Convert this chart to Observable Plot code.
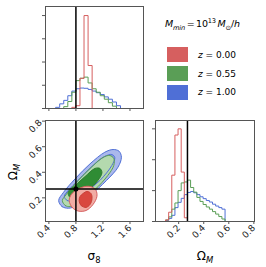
<!DOCTYPE html>
<html><head><meta charset="utf-8">
<script src="https://cdn.jsdelivr.net/npm/d3@7"></script>
<script src="https://cdn.jsdelivr.net/npm/@observablehq/plot@0.6"></script>
<style>
body{margin:0;background:#fff;font-family:"DejaVu Sans",sans-serif;}
#fig{position:relative;width:266px;height:267px;overflow:hidden;background:#fff;}
.p{position:absolute;}
.lab{position:absolute;font-size:12px;color:#000;white-space:nowrap;}
.sw{position:absolute;left:167px;width:21px;height:15px;}
.lt{position:absolute;left:198px;font-size:9px;white-space:nowrap;line-height:12px;}
sub,sup{font-size:70%;line-height:0;}
</style></head><body><div id="fig"></div>
<script>
// ---- data ----
const seriesNames = ["z = 0.00", "z = 0.55", "z = 1.00"];
const seriesColors = ["#d65f5f", "#5a9e56", "#4f6fd6"];
const fiducialSigma8 = 0.8;
const fiducialOmegaM = 0.27;

const sigma8Ticks = [0.4, 0.8, 1.2, 1.6];
const omegaTicks = [0.2, 0.4, 0.6, 0.8];

// sigma8 histogram (bin edges + heights)
const sig8Edges = [0.44,0.50,0.56,0.62,0.68,0.74,0.80,0.86,0.92,0.98,1.04,1.10,1.16,1.22,1.28,1.34,1.40,1.46];
const sig8Red   = [0,0,0,0,0,0.05,0.12,1.3,4.0,1.85,0,0,0,0,0,0,0];
const sig8Green = [0,0,0,0.08,0.3,0.7,1.2,1.3,1.35,1.1,0.85,0.7,0.55,0.4,0.25,0.1,0];
const sig8Blue  = [0,0.05,0.2,0.35,0.55,0.75,0.85,0.88,0.87,0.82,0.75,0.68,0.6,0.5,0.4,0.28,0.12];

// Omega_M histogram
const omEdges = [0.095,0.12,0.145,0.17,0.195,0.22,0.245,0.27,0.295,0.32,0.345,0.37,0.395,0.42,0.445,0.47,0.495,0.52,0.545,0.57];
const omRed   = [0.05,0.3,1.5,2.8,3.0,1.6,0.12,0,0,0,0,0,0,0,0,0,0,0,0];
const omGreen = [0.05,0.15,0.4,0.6,1.0,1.25,1.28,1.34,1.1,0.95,0.78,0.65,0.55,0.47,0.4,0.32,0.24,0.16,0.08];
const omBlue  = [0.03,0.1,0.2,0.45,0.62,0.75,0.87,0.94,0.97,0.93,0.87,0.8,0.74,0.68,0.63,0.56,0.5,0.45,0.4];

// contour outlines [sigma8, Omega_M]
const blueOuter = [[0.545,0.179],[0.594,0.132],[0.691,0.119],[0.814,0.140],[1.009,0.218],[1.253,0.336],[1.423,0.440],[1.473,0.518],[1.438,0.565],[1.350,0.578],[1.228,0.557],[1.009,0.466],[0.789,0.349],[0.618,0.244]];
const blueInner = [[0.628,0.211],[0.672,0.179],[0.760,0.179],[0.936,0.242],[1.155,0.336],[1.331,0.453],[1.375,0.516],[1.331,0.539],[1.228,0.524],[1.038,0.445],[0.833,0.336],[0.687,0.258]];
const greenOuter = [[0.599,0.179],[0.643,0.140],[0.716,0.132],[0.862,0.179],[1.082,0.265],[1.272,0.375],[1.360,0.453],[1.360,0.508],[1.302,0.531],[1.199,0.516],[1.009,0.430],[0.804,0.320],[0.657,0.226]];
const greenInner = [[0.687,0.226],[0.731,0.195],[0.819,0.187],[0.980,0.258],[1.126,0.336],[1.185,0.398],[1.155,0.430],[1.082,0.430],[0.936,0.367],[0.789,0.297],[0.701,0.258]];
const redOuter = [[0.701,0.179],[0.745,0.125],[0.833,0.097],[0.950,0.101],[1.053,0.148],[1.111,0.211],[1.097,0.258],[1.038,0.285],[0.936,0.289],[0.819,0.265],[0.731,0.226]];
const redInner = [[0.848,0.179],[0.877,0.140],[0.950,0.125],[1.009,0.148],[1.038,0.195],[1.023,0.234],[0.965,0.250],[0.906,0.234],[0.862,0.211]];

// ---- helpers ----
function stepPts(edges, h) {
  const pts = [{x: edges[0], y: 0}];
  h.forEach((v, i) => pts.push({x: edges[i], y: v}));
  pts.push({x: edges[edges.length - 1], y: 0});
  return pts;
}
const toPts = a => a.map(([x, y]) => ({x, y}));
const fig = document.getElementById("fig");
function place(el, left, top) {
  const w = document.createElement("div");
  w.className = "p"; w.style.left = left + "px"; w.style.top = top + "px";
  w.appendChild(el); fig.appendChild(w);
}
const style = {fontFamily: "DejaVu Sans", fontSize: "9px", background: "transparent", overflow: "visible"};
const frameColor = "#555";
const sig8Domain = [0.35, 1.8];
const omDomain = [0.015, 0.805];

// ---- top-left: sigma8 histogram ----
const sigHists = [sig8Red, sig8Green, sig8Blue];
place(Plot.plot({
  width: 150, height: 115, marginLeft: 45, marginRight: 7, marginTop: 6, marginBottom: 7,
  style,
  x: {domain: sig8Domain, label: null}, y: {domain: [0, 4.39], label: null},
  marks: [
    ...[2, 1, 0].map(i => Plot.line(stepPts(sig8Edges, sigHists[i]), {x: "x", y: "y", curve: "step-after", stroke: seriesColors[i], strokeWidth: 1})),
    Plot.ruleX([fiducialSigma8], {stroke: "#000", strokeWidth: 1.5}),
    Plot.axisX(sigma8Ticks, {tickSize: 3, tickFormat: () => "", stroke: frameColor, label: null}),
    Plot.axisY([0, 1, 2, 3, 4], {tickSize: 3, tickFormat: () => "", stroke: frameColor, label: null}),
    Plot.frame({stroke: frameColor})
  ]
}), 0, 0);

// ---- bottom-left: contours ----
const fillBlueOuter = "#aab8ec", fillBlueInner = "#8a9fe4";
const fillGreenOuter = "#b4d9ae", fillGreenInner = "#2f8c34";
const fillRedOuter = "#f1aca4", fillRedInner = "#d9483f";
const closed = "catmull-rom-closed";
const cl = (arr, opts) => Plot.line(toPts(arr), {x: "x", y: "y", curve: closed, ...opts});
place(Plot.plot({
  width: 150, height: 157, marginLeft: 45, marginRight: 7, marginTop: 10, marginBottom: 46,
  style,
  x: {domain: sig8Domain, label: null}, y: {domain: omDomain, label: null},
  marks: [
    cl(blueOuter, {fill: fillBlueOuter, stroke: "none"}),
    cl(blueInner, {fill: fillBlueInner, stroke: "none"}),
    cl(greenOuter, {fill: fillGreenOuter, stroke: "none"}),
    cl(greenInner, {fill: fillGreenInner, stroke: "none"}),
    cl(blueOuter, {stroke: seriesColors[2], strokeWidth: 1}),
    cl(blueInner, {stroke: seriesColors[2], strokeWidth: 1}),
    cl(greenOuter, {stroke: seriesColors[1], strokeWidth: 1}),
    cl(greenInner, {stroke: "#2a7a2e", strokeWidth: 1}),
    cl(redOuter, {fill: fillRedOuter, stroke: seriesColors[0], strokeWidth: 1}),
    cl(redInner, {fill: fillRedInner, stroke: "#c94038", strokeWidth: 1}),
    Plot.ruleX([fiducialSigma8], {stroke: "#000", strokeWidth: 1.5}),
    Plot.ruleY([fiducialOmegaM], {stroke: "#000", strokeWidth: 1.5}),
    Plot.dot([{x: fiducialSigma8, y: fiducialOmegaM}], {x: "x", y: "y", r: 2.5, fill: "#000"}),
    Plot.axisX(sigma8Ticks, {tickSize: 3, tickRotate: -45, tickPadding: 2, stroke: frameColor, tickFormat: d3.format(".1f"), label: null, fill: "#222"}),
    Plot.axisY(omegaTicks, {tickSize: 3, tickRotate: -45, tickPadding: 2, stroke: frameColor, tickFormat: d3.format(".1f"), label: null, fill: "#222"}),
    Plot.frame({stroke: frameColor})
  ]
}), 0, 110);

// ---- bottom-right: Omega_M histogram ----
const omHists = [omRed, omGreen, omBlue];
place(Plot.plot({
  width: 121, height: 157, marginLeft: 10, marginRight: 12, marginTop: 10, marginBottom: 46,
  style,
  x: {domain: omDomain, label: null}, y: {domain: [0, 3.27], label: null},
  marks: [
    ...[2, 1, 0].map(i => Plot.line(stepPts(omEdges, omHists[i]), {x: "x", y: "y", curve: "step-after", stroke: seriesColors[i], strokeWidth: 1})),
    Plot.ruleX([fiducialOmegaM], {stroke: "#000", strokeWidth: 1.5}),
    Plot.axisX(omegaTicks, {tickSize: 3, tickRotate: -45, tickPadding: 2, stroke: frameColor, tickFormat: d3.format(".1f"), label: null, fill: "#222"}),
    Plot.axisY([0, 1, 2, 3], {tickSize: 3, tickFormat: () => "", stroke: frameColor, label: null}),
    Plot.frame({stroke: frameColor})
  ]
}), 145, 110);

// ---- axis titles ----
function label(html, left, top, rot) {
  const d = document.createElement("div");
  d.className = "lab"; d.innerHTML = html;
  d.style.left = left + "px"; d.style.top = top + "px";
  d.style.transform = "translate(-50%,-50%)" + (rot ? " rotate(-90deg)" : "");
  fig.appendChild(d);
}
label("σ<sub>8</sub>", 94, 256, false);
label("Ω<sub><i>M</i></sub>", 205, 256, false);
label("Ω<sub><i>M</i></sub>", 13, 172, true);

// ---- legend ----
const t = document.createElement("div");
t.className = "lab";
t.style.left = "165px"; t.style.top = "18px"; t.style.fontSize = "9.5px"; t.style.letterSpacing = "-0.2px";
t.innerHTML = "<i>M</i><sub><i>min</i></sub>\u2009=\u200910<sup>13</sup>\u2009<i>M</i><sub>⊙</sub>/<i>h</i>";
fig.appendChild(t);
const swTops = [47, 66, 84.5];
seriesNames.forEach((n, i) => {
  const s = document.createElement("div");
  s.className = "sw"; s.style.top = swTops[i] + "px"; s.style.background = seriesColors[i];
  fig.appendChild(s);
  const l = document.createElement("div");
  l.className = "lt"; l.style.top = (swTops[i] + 1.5) + "px";
  l.innerHTML = "<i>z</i> = " + n.split("= ")[1];
  fig.appendChild(l);
});
</script>
</body></html>
